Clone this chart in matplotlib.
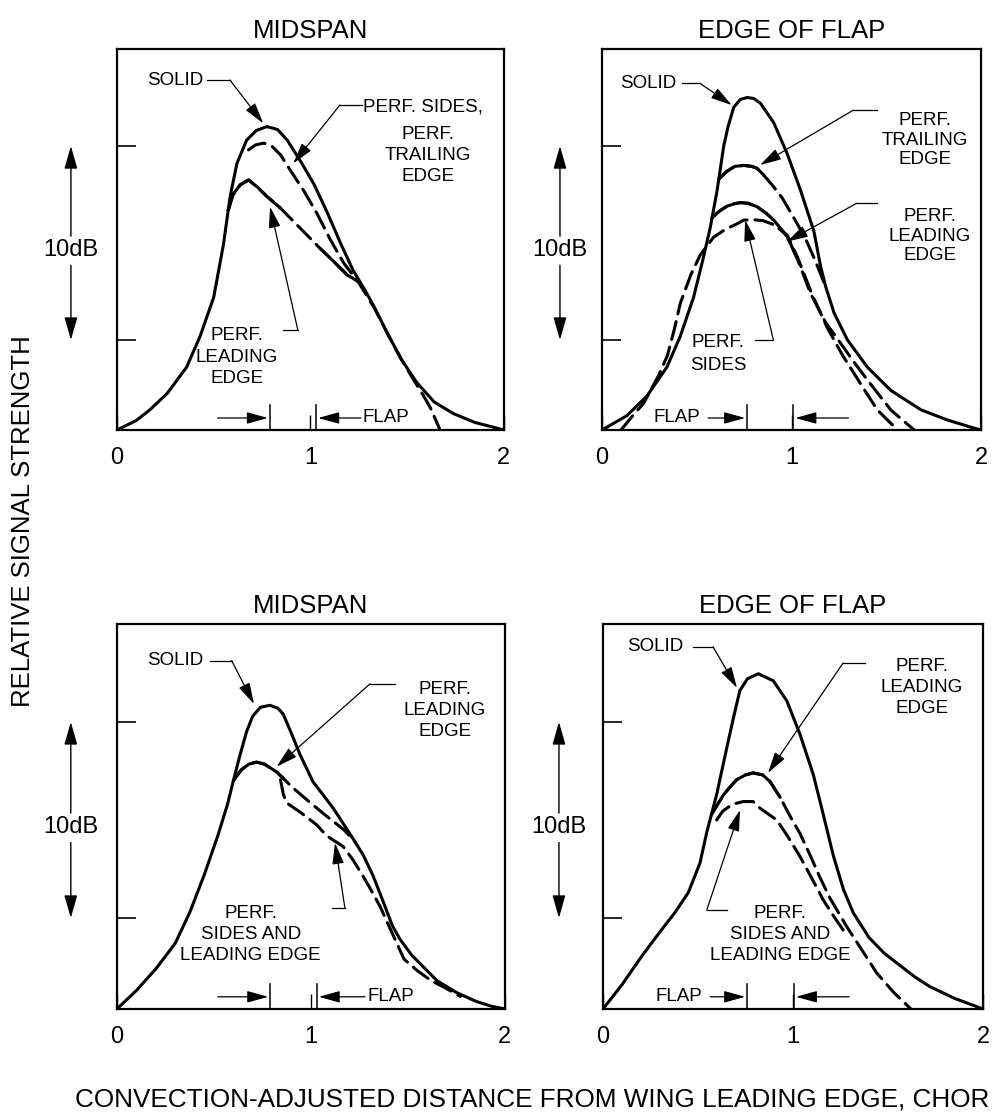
import numpy as np
import matplotlib.pyplot as plt

plt.rcParams['font.family'] = ['Liberation Sans', 'DejaVu Sans']

# x: convection-adjusted distance (chords), y: relative level (dB)

# midspan, upper
tl_solid_x = [0.00, 0.10, 0.17, 0.26, 0.36, 0.43, 0.50, 0.55, 0.585, 0.62, 0.67, 0.72, 0.775, 0.83, 0.88,
              0.95, 1.02, 1.09, 1.155, 1.22, 1.28, 1.33, 1.40, 1.47, 1.55, 1.64, 1.74, 1.85, 2.00]
tl_solid_y = [0.36, 0.85, 1.4, 2.25, 3.6, 5.2, 7.2, 9.9, 12.4, 14.1, 15.3, 15.8, 16.0, 15.85, 15.3,
              14.2, 13.0, 11.5, 10.0, 8.6, 7.6, 6.7, 5.3, 4.0, 2.8, 1.8, 1.2, 0.75, 0.36]
tl_sides_x = [0.68, 0.715, 0.758, 0.80, 0.845, 0.896, 0.965, 1.035, 1.104, 1.173, 1.25, 1.33, 1.40,
              1.47, 1.53, 1.58, 1.62, 1.67]
tl_sides_y = [14.8, 15.05, 15.15, 15.0, 14.55, 13.75, 12.7, 11.5, 10.15, 8.95, 7.95, 6.65, 5.3,
              4.0, 3.0, 2.2, 1.5, 0.36]
tl_le_x = [0.575, 0.60, 0.637, 0.68, 0.724, 0.775, 0.845, 0.914, 0.983, 1.052, 1.12, 1.19, 1.25]
tl_le_y = [11.7, 12.5, 13.0, 13.25, 12.9, 12.4, 11.8, 11.1, 10.4, 9.7, 9.05, 8.35, 8.0]

# edge of flap, upper
tr_solid_x = [0.00, 0.131, 0.236, 0.342, 0.413, 0.483, 0.536, 0.571, 0.607, 0.642, 0.665, 0.695, 0.73,
              0.766, 0.80, 0.836, 0.906, 0.977, 1.048, 1.118, 1.153, 1.18, 1.224, 1.295, 1.40, 1.524,
              1.683, 1.824, 1.965, 2.00]
tr_solid_y = [0.36, 1.1, 2.1, 3.6, 5.2, 7.2, 9.3, 10.8, 12.7, 15.0, 16.0, 17.0, 17.4,
              17.5, 17.45, 17.2, 16.2, 14.6, 12.7, 10.6, 8.8, 7.75, 6.4, 5.0, 3.6, 2.4,
              1.4, 0.87, 0.45, 0.36]
tr_te_x = [0.616, 0.66, 0.70, 0.748, 0.79, 0.818, 0.853, 0.905, 0.952, 1.00, 1.07, 1.12, 1.18]
tr_te_y = [13.3, 13.7, 13.95, 14.0, 13.95, 13.85, 13.5, 12.9, 12.3, 11.5, 10.3, 9.2, 7.75]
tr_le_x = [0.58, 0.62, 0.66, 0.70, 0.73, 0.77, 0.818, 0.87, 0.906, 0.977, 1.03, 1.10, 1.18, 1.259,
           1.33, 1.40, 1.524, 1.647]
tr_le_y = [11.3, 11.65, 11.9, 12.03, 12.08, 12.05, 11.87, 11.5, 11.18, 10.33, 9.2, 7.4, 5.9, 4.83,
           3.85, 2.94, 1.39, 0.36]
tr_sides_x = [0.10, 0.157, 0.219, 0.30, 0.345, 0.38, 0.413, 0.47, 0.519, 0.589, 0.65, 0.704, 0.748,
              0.80, 0.85, 0.905, 0.977, 1.03, 1.11, 1.19, 1.268, 1.374, 1.453, 1.55]
tr_sides_y = [0.36, 1.04, 1.73, 3.2, 4.2, 5.5, 6.9, 8.4, 9.4, 10.3, 10.7, 10.95, 11.18,
              11.2, 11.15, 10.95, 10.4, 9.3, 7.3, 5.6, 4.23, 2.59, 1.39, 0.45]

# midspan, lower
bl_solid_x = [0.00, 0.10, 0.20, 0.30, 0.376, 0.45, 0.52, 0.57, 0.60, 0.634, 0.668, 0.70, 0.74, 0.789,
              0.83, 0.857, 0.90, 0.943, 1.01, 1.115, 1.22, 1.27, 1.32, 1.37, 1.42, 1.46, 1.52, 1.58,
              1.65, 1.75, 1.85, 1.93, 2.00]
bl_solid_y = [0.36, 1.3, 2.4, 3.7, 5.3, 7.2, 9.2, 10.8, 12.0, 13.3, 14.5, 15.3, 15.75, 15.85,
              15.7, 15.4, 14.4, 13.35, 11.96, 10.6, 9.0, 8.2, 7.16, 5.9, 4.6, 3.9, 3.1, 2.5,
              1.8, 1.2, 0.75, 0.5, 0.36]
bl_le_x = [0.60, 0.64, 0.68, 0.72, 0.76, 0.80, 0.823, 0.86, 0.90, 1.00, 1.08, 1.17, 1.23]
bl_le_y = [12.0, 12.55, 12.85, 12.95, 12.85, 12.6, 12.45, 12.1, 11.7, 10.85, 10.2, 9.5, 8.85]
bl_sides_x = [0.843, 0.85, 0.858, 0.875, 0.95, 1.03, 1.08, 1.167, 1.217, 1.27, 1.30, 1.356, 1.42,
              1.48, 1.55, 1.62, 1.69, 1.77]
bl_sides_y = [12.05, 11.7, 11.3, 10.87, 10.36, 9.75, 9.2, 8.64, 7.96, 7.11, 6.6, 5.6, 4.2,
              2.9, 2.3, 1.8, 1.45, 1.0]

# edge of flap, lower
br_solid_x = [0.00, 0.10, 0.20, 0.30, 0.38, 0.449, 0.51, 0.546, 0.598, 0.651, 0.686, 0.72, 0.76,
              0.817, 0.896, 0.967, 1.037, 1.107, 1.16, 1.212, 1.265, 1.317, 1.40, 1.48, 1.56, 1.64,
              1.72, 1.85, 2.00]
br_solid_y = [0.36, 1.6, 3.0, 4.3, 5.3, 6.3, 7.8, 9.38, 11.3, 13.67, 15.2, 16.6, 17.2,
              17.46, 17.1, 16.08, 14.36, 12.3, 10.24, 8.18, 6.46, 5.26, 4.0, 3.2, 2.6, 2.0,
              1.5, 0.9, 0.36]
br_le_x = [0.572, 0.60, 0.633, 0.67, 0.703, 0.75, 0.79, 0.84, 0.879, 0.932, 0.984, 1.037, 1.09, 1.14,
           1.195, 1.28, 1.36, 1.44, 1.53, 1.62]
br_le_y = [10.3, 10.75, 11.27, 11.7, 12.05, 12.3, 12.4, 12.3, 11.96, 11.15, 10.2, 9.3, 8.2, 7.1,
           6.0, 4.6, 3.4, 2.2, 1.2, 0.36]
br_sides_x = [0.598, 0.63, 0.68, 0.738, 0.79, 0.826, 0.87, 0.914, 0.967, 1.037, 1.10, 1.16, 1.22, 1.27]
br_sides_y = [10.0, 10.45, 10.8, 10.94, 10.94, 10.6, 10.3, 10.0, 9.24, 8.13, 7.0, 5.9, 5.0, 4.3]

x_ticks = [0, 1, 2]
x_tick_labels = ['0', '1', '2']
db_ticks = [5, 15]

LW = 2.2
DASH = (0, (6, 2.6))
ANN = 13.5
HEAD = '-|>,head_length=0.65,head_width=0.18'


def curve(ax, x, y, solid_until=None, solid_from=None, dashed=True):
    x = np.asarray(x)
    y = np.asarray(y)
    ax.plot(x, y, color='k', lw=LW, ls=DASH if dashed else '-', solid_capstyle='round',
            dash_capstyle='round')
    if solid_until is not None:
        m = x <= solid_until
        ax.plot(x[m], y[m], color='k', lw=LW, solid_capstyle='round')
    if solid_from is not None:
        m = x >= solid_from
        ax.plot(x[m], y[m], color='k', lw=LW, solid_capstyle='round')


def leader(ax, start, knee, tip):
    ax.plot([start[0], knee[0]], [start[1], knee[1]], color='k', lw=0.9)
    ax.annotate('', xy=tip, xytext=knee,
                arrowprops=dict(arrowstyle=HEAD, lw=0.9, color='k', shrinkA=0, shrinkB=0,
                                mutation_scale=20))


def flap(ax, left, right, x_text, text_left):
    yb, yt, ya = 0.36, 1.65, 0.98
    for xm in (left, right):
        ax.plot([xm, xm], [yb, yt], color='k', lw=1.1)
    arr = dict(arrowstyle=HEAD, lw=0.9, color='k', shrinkA=0, shrinkB=0, mutation_scale=20)
    if text_left:
        ax.text(x_text, ya, 'FLAP', fontsize=ANN, ha='left', va='center')
        ax.annotate('', xy=(left - 0.01, ya), xytext=(x_text + 0.29, ya), arrowprops=arr)
        ax.annotate('', xy=(right + 0.01, ya), xytext=(right + 0.29, ya), arrowprops=arr)
    else:
        ax.annotate('', xy=(left - 0.01, ya), xytext=(left - 0.27, ya), arrowprops=arr)
        ax.annotate('', xy=(right + 0.01, ya), xytext=(x_text - 0.01, ya), arrowprops=arr)
        ax.text(x_text, ya, 'FLAP', fontsize=ANN, ha='left', va='center')


def db_arrow(ax, xf):
    tr = ax.get_yaxis_transform()
    arr = dict(arrowstyle='-|>,head_length=0.7,head_width=0.2', lw=1.0, color='k',
               shrinkA=0, shrinkB=0, mutation_scale=20)
    ax.annotate('', xy=(xf, db_ticks[1]), xytext=(xf, 10.35), xycoords=tr, textcoords=tr,
                arrowprops=arr)
    ax.annotate('', xy=(xf, db_ticks[0]), xytext=(xf, 8.85), xycoords=tr, textcoords=tr,
                arrowprops=arr)
    ax.text(xf, 9.65, '10dB', transform=tr, ha='center', va='center', fontsize=17)


def frame(ax, title):
    ax.set_xlim(0, 2)
    ax.set_ylim(0.36, 20)
    ax.set_xticks(x_ticks)
    ax.set_xticklabels(x_tick_labels)
    ax.set_yticks(db_ticks)
    ax.set_yticklabels([])
    ax.tick_params(axis='x', direction='in', length=11, width=1.0, pad=12, labelsize=17)
    ax.tick_params(axis='y', direction='in', length=14, width=1.2)
    for s in ax.spines.values():
        s.set_linewidth(1.6)
    ax.set_title(title, fontsize=18.5, pad=8)


fig = plt.figure(figsize=(9.92, 11.14), dpi=100)
ax_tl = fig.add_axes([0.1179, 0.6140, 0.3901, 0.3420])
ax_tr = fig.add_axes([0.6069, 0.6140, 0.3821, 0.3420])
ax_bl = fig.add_axes([0.1179, 0.0943, 0.3911, 0.3456])
ax_br = fig.add_axes([0.6079, 0.0943, 0.3831, 0.3456])

# --- midspan, upper ---
ax = ax_tl
frame(ax, 'MIDSPAN')
curve(ax, tl_solid_x, tl_solid_y, dashed=False)
curve(ax, tl_sides_x, tl_sides_y)
curve(ax, tl_le_x, tl_le_y, solid_until=0.90, solid_from=1.04)
ax.text(0.155, 18.4, 'SOLID', fontsize=ANN, ha='left', va='center')
leader(ax, (0.465, 18.4), (0.584, 18.4), (0.756, 16.17))
ax.text(1.271, 17.0, 'PERF. SIDES,', fontsize=ANN, ha='left', va='center')
ax.text(1.607, 14.53, 'PERF.\nTRAILING\nEDGE', fontsize=ANN, ha='center', va='center',
        multialignment='center', linespacing=1.3)
leader(ax, (1.265, 17.11), (1.152, 17.11), (0.911, 14.1))
ax.text(0.62, 4.12, 'PERF.\nLEADING\nEDGE', fontsize=ANN, ha='center', va='center',
        multialignment='center', linespacing=1.35)
leader(ax, (0.858, 5.51), (0.935, 5.51), (0.791, 11.87))
flap(ax, 0.79, 1.03, 1.271, text_left=False)
db_arrow(ax, -0.119)

# --- edge of flap, upper ---
ax = ax_tr
frame(ax, 'EDGE OF FLAP')
curve(ax, tr_solid_x, tr_solid_y, dashed=False)
curve(ax, tr_sides_x, tr_sides_y)
curve(ax, tr_te_x, tr_te_y, solid_until=0.853)
curve(ax, tr_le_x, tr_le_y, solid_until=1.03)
ax.text(0.095, 18.23, 'SOLID', fontsize=ANN, ha='left', va='center')
leader(ax, (0.42, 18.23), (0.517, 18.23), (0.684, 17.11))
ax.text(1.704, 15.3, 'PERF.\nTRAILING\nEDGE', fontsize=ANN, ha='center', va='center',
        multialignment='center', linespacing=1.2)
leader(ax, (1.45, 16.85), (1.326, 16.85), (0.834, 14.02))
ax.text(1.731, 10.36, 'PERF.\nLEADING\nEDGE', fontsize=ANN, ha='center', va='center',
        multialignment='center', linespacing=1.2)
leader(ax, (1.45, 12.05), (1.344, 12.05), (0.975, 10.07))
ax.text(0.612, 4.28, 'PERF.\nSIDES', fontsize=ANN, ha='center', va='center',
        multialignment='center', linespacing=1.4)
leader(ax, (0.807, 5.0), (0.904, 5.0), (0.755, 11.18))
flap(ax, 0.765, 1.01, 0.269, text_left=True)
db_arrow(ax, -0.111)

# --- midspan, lower ---
ax = ax_bl
frame(ax, 'MIDSPAN')
curve(ax, bl_solid_x, bl_solid_y, dashed=False)
curve(ax, bl_le_x, bl_le_y, solid_until=0.88)
curve(ax, bl_sides_x, bl_sides_y)
ax.text(0.155, 18.13, 'SOLID', fontsize=ANN, ha='left', va='center')
leader(ax, (0.479, 18.13), (0.591, 18.13), (0.706, 15.92))
ax.text(1.69, 15.6, 'PERF.\nLEADING\nEDGE', fontsize=ANN, ha='center', va='center',
        multialignment='center', linespacing=1.3)
leader(ax, (1.433, 16.94), (1.304, 16.94), (0.823, 12.72))
ax.text(0.69, 4.14, 'PERF.\nSIDES AND\nLEADING EDGE', fontsize=ANN, ha='center', va='center',
        multialignment='center', linespacing=1.3)
leader(ax, (1.107, 5.51), (1.175, 5.51), (1.124, 8.83))
flap(ax, 0.79, 1.03, 1.289, text_left=False)
db_arrow(ax, -0.119)

# --- edge of flap, lower ---
ax = ax_br
frame(ax, 'EDGE OF FLAP')
curve(ax, br_solid_x, br_solid_y, dashed=False)
curve(ax, br_le_x, br_le_y, solid_until=0.95)
curve(ax, br_sides_x, br_sides_y)
ax.text(0.126, 18.83, 'SOLID', fontsize=ANN, ha='left', va='center')
leader(ax, (0.474, 18.83), (0.579, 18.83), (0.705, 16.74))
ax.text(1.679, 16.74, 'PERF.\nLEADING\nEDGE', fontsize=ANN, ha='center', va='center',
        multialignment='center', linespacing=1.3)
leader(ax, (1.379, 18.0), (1.263, 18.0), (0.868, 12.4))
ax.text(0.932, 4.14, 'PERF.\nSIDES AND\nLEADING EDGE', fontsize=ANN, ha='center', va='center',
        multialignment='center', linespacing=1.3)
leader(ax, (0.653, 5.41), (0.546, 5.41), (0.721, 10.51))
flap(ax, 0.758, 1.005, 0.274, text_left=True)
db_arrow(ax, -0.116)

fig.text(23 / 992, 1 - 521 / 1114, 'RELATIVE SIGNAL STRENGTH', rotation=90, fontsize=18.5,
         ha='center', va='center')
fig.text(75 / 992, 1 - 1100 / 1114, 'CONVECTION-ADJUSTED DISTANCE FROM WING LEADING EDGE, CHOR',
         fontsize=18.8, ha='left', va='center')

fig.savefig('out.png', dpi=100)
